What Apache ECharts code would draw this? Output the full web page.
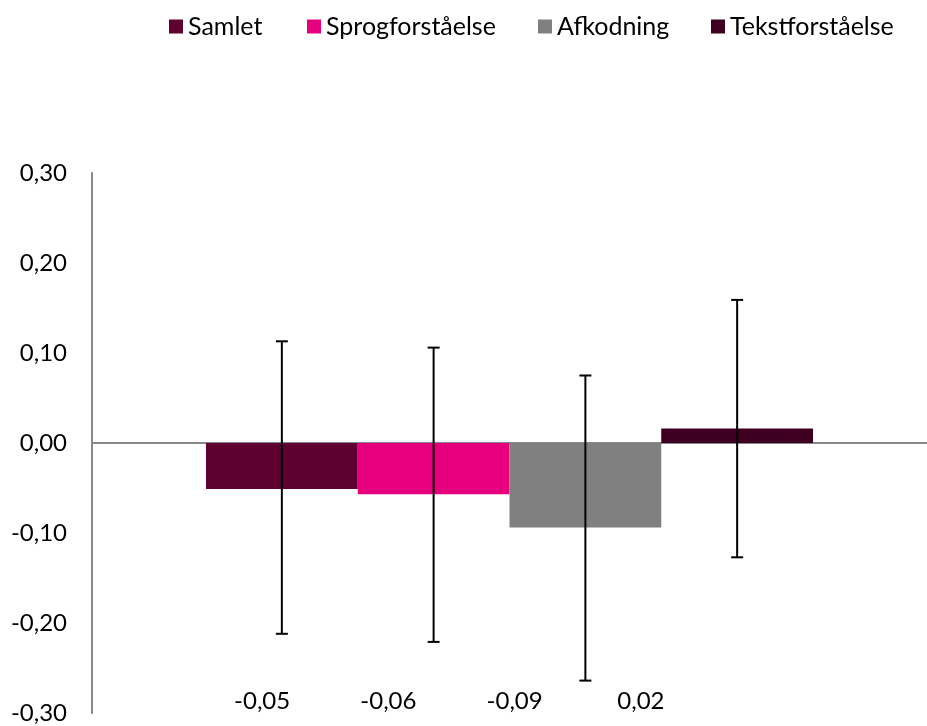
<!DOCTYPE html>
<html><head><meta charset="utf-8">
<script src="https://cdn.jsdelivr.net/npm/echarts@6/dist/echarts.min.js"></script>
<style>html,body{margin:0;padding:0;background:#fff}#c{width:927px;height:726px}</style>
</head><body><div id="c"></div>
<script>
const seriesNames = ['Samlet', 'Sprogforståelse', 'Afkodning', 'Tekstforståelse'];
const values = [-0.051, -0.057, -0.094, 0.016];
const errHigh = [0.113, 0.106, 0.075, 0.159];
const errLow = [-0.212, -0.221, -0.264, -0.127];
const colors = ['#5E0030', '#E6007E', '#808080', '#3D0020'];

const fmt = v => v.toFixed(2).replace('.', ',');
const valueLabels = values.map(fmt);
const FONT = 'Lato';
const GAP = 0.273;
const legendLeft = [164, 302, 533, 706];

const chart = echarts.init(document.getElementById('c'), null, {renderer: 'canvas'});
const barSeries = seriesNames.map((n, i) => ({
  name: n, type: 'bar', xAxisIndex: 0, yAxisIndex: 0,
  data: [values[i]],
  itemStyle: {color: colors[i]},
  barGap: '0%', barCategoryGap: (GAP * 100) + '%',
  emphasis: {disabled: true}
}));

const option = {
  animation: false,
  textStyle: {fontFamily: FONT},
  color: colors,
  legend: seriesNames.map((n, i) => ({
    data: [n], left: legendLeft[i], top: 9,
    icon: 'rect', itemWidth: 14, itemHeight: 14,
    selectedMode: false,
    textStyle: {fontFamily: FONT, fontSize: 25, color: '#000'}
  })),
  grid: [
    {left: 92, right: -6, top: 173, bottom: 13},
    {left: 199, width: 505, top: 173, bottom: 46}
  ],
  xAxis: [
    {type: 'category', gridIndex: 0, data: ['all'],
      axisLine: {onZero: true, lineStyle: {color: '#898989', width: 2}},
      axisTick: {show: false}, axisLabel: {show: false}, splitLine: {show: false}},
    {type: 'category', gridIndex: 1, data: valueLabels,
      axisLine: {show: false}, axisTick: {show: false}, splitLine: {show: false},
      axisLabel: {fontFamily: FONT, fontSize: 24, color: '#000', margin: 9}}
  ],
  yAxis: [
    {type: 'value', gridIndex: 0, min: -0.3, max: 0.3, interval: 0.1,
      axisLine: {show: true, lineStyle: {color: '#898989', width: 2}},
      axisTick: {show: false}, splitLine: {show: false},
      axisLabel: {fontFamily: FONT, fontSize: 24, color: '#000', margin: 25, formatter: fmt}},
    {type: 'value', gridIndex: 1, show: false, min: -0.3, max: 0.3}
  ],
  series: barSeries.concat([{
    type: 'custom', xAxisIndex: 0, yAxisIndex: 0, z: 10, silent: true,
    data: values.map((v, i) => [0, errLow[i], errHigh[i], i]),
    encode: {x: 0, y: [1, 2]},
    renderItem: (params, api) => {
      const i = api.value(3);
      const lo = api.coord([0, api.value(1)]);
      const hi = api.coord([0, api.value(2)]);
      const band = api.size([1, 0])[0];
      const bw = band * (1 - GAP) / seriesNames.length;
      const x = lo[0] + (i - (seriesNames.length - 1) / 2) * bw;
      const cap = 6;
      const st = {stroke: '#000', lineWidth: 2};
      return {type: 'group', children: [
        {type: 'line', shape: {x1: x, y1: hi[1], x2: x, y2: lo[1]}, style: st},
        {type: 'line', shape: {x1: x - cap, y1: hi[1], x2: x + cap, y2: hi[1]}, style: st},
        {type: 'line', shape: {x1: x - cap, y1: lo[1], x2: x + cap, y2: lo[1]}, style: st}
      ]};
    }
  }])
};
chart.setOption(option);
</script>
</body></html>
